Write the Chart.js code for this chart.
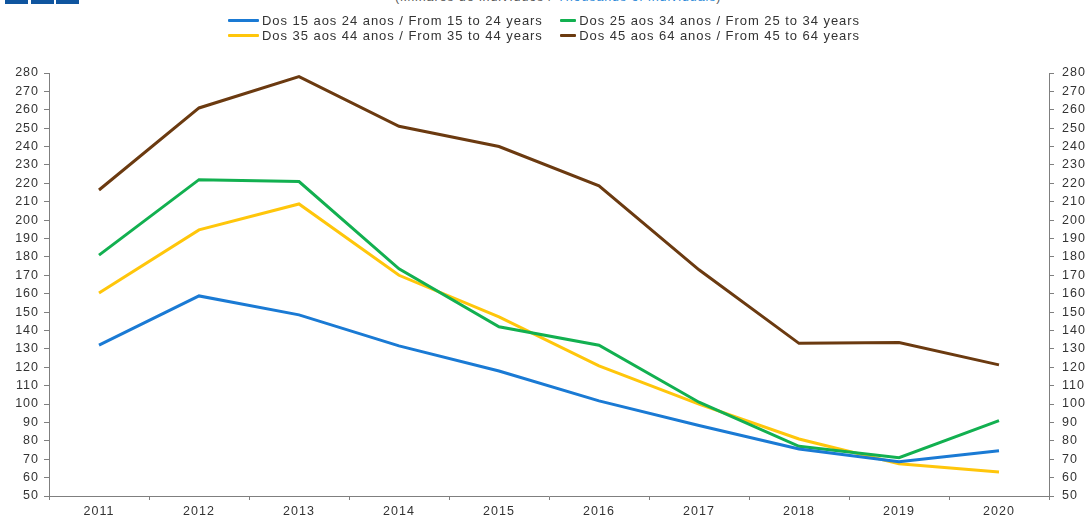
<!DOCTYPE html>
<html lang="pt">
<head>
<meta charset="UTF-8">
<title>Desempregados por grupo etário</title>
<script src="https://cdn.jsdelivr.net/npm/chart.js"></script>
<style>
  html, body { margin: 0; padding: 0; background: #fff; }
  #wrap { position: relative; width: 1086px; height: 515px; overflow: hidden; font-family: "Liberation Sans", Arial, sans-serif; }
  #chart { position: absolute; left: 0; top: 0; }
  .box { position: absolute; top: 0; height: 4px; width: 23px; background: #0f559f; }
  #subtitle { position: absolute; left: 395px; top: -10px; font-size: 12.5px; line-height: 14px; letter-spacing: 0.9px; color: #595959; white-space: nowrap; }
  #subtitle span { color: #2e8ad8; }
  #legend { position: absolute; left: 228px; top: 13px; display: grid; grid-template-columns: 332px 300px; row-gap: 0; }
  .item { display: flex; align-items: center; height: 15px; font-size: 13px; letter-spacing: 0.95px; color: #333; white-space: nowrap; }
  .swatch { width: 31px; height: 3px; margin-right: 3px; border-radius: 1px; }
</style>
</head>
<body>
<div id="wrap">
  <div class="box" style="left:5px"></div>
  <div class="box" style="left:31px"></div>
  <div class="box" style="left:56px"></div>
  <div id="subtitle">(Milhares de indivíduos / <span>Thousands of individuals</span>)</div>
  <canvas id="chart" width="1086" height="515"></canvas>
  <div id="legend"></div>
</div>
<script>
// anos / years
const years = ['2011', '2012', '2013', '2014', '2015', '2016', '2017', '2018', '2019', '2020'];

const seriesNames = [
  'Dos 15 aos 24 anos / From 15 to 24 years',
  'Dos 25 aos 34 anos / From 25 to 34 years',
  'Dos 35 aos 44 anos / From 35 to 44 years',
  'Dos 45 aos 64 anos / From 45 to 64 years'
];
const seriesColors = ['#1a7ad4', '#12b050', '#ffc60b', '#6b3a10'];

// milhares de indivíduos
const age15to24 = [132, 158.8, 148.5, 131.6, 118, 101.7, 88.3, 75.6, 68.6, 74.6];
const age25to34 = [181, 222, 221, 173.5, 142, 132, 101, 77, 70.8, 91];
const age35to44 = [160.4, 194.7, 208.8, 170, 147.4, 120.8, 100, 81, 67.5, 63];
const age45to64 = [216.4, 261, 278, 251, 240, 218.6, 173, 133, 133.4, 121.3];

const yMin = 50, yMax = 280, yStep = 10;

const seriesValues = [age15to24, age25to34, age35to44, age45to64];

// legenda em html, duas colunas
const legend = document.getElementById('legend');
seriesNames.forEach((name, i) => {
  const item = document.createElement('div');
  item.className = 'item';
  item.innerHTML = '<div class="swatch" style="background:' + seriesColors[i] + '"></div>' + name;
  legend.appendChild(item);
});

// espaçamento das letras nos eixos
const spacing = {
  id: 'spacing',
  beforeUpdate(chart) { chart.ctx.letterSpacing = '1px'; },
  beforeDraw(chart) { chart.ctx.letterSpacing = '1px'; }
};

const axisColor = '#7f7f7f';
const tickFont = { family: '"Liberation Sans", Arial, sans-serif', size: 12.5 };

const ctx = document.getElementById('chart').getContext('2d');
new Chart(ctx, {
  type: 'line',
  data: {
    labels: years,
    datasets: seriesValues.map((vals, i) => ({
      label: seriesNames[i],
      data: vals,
      borderColor: seriesColors[i],
      backgroundColor: seriesColors[i],
      borderWidth: 3,
      pointRadius: 0,
      tension: 0,
      yAxisID: 'y'
    }))
  },
  options: {
    responsive: false,
    animation: false,
    layout: { padding: { top: 73, left: 0, right: 0, bottom: 0 } },
    plugins: {
      legend: { display: false },
      tooltip: { enabled: false }
    },
    scales: {
      x: {
        offset: true,
        grid: { offset: true, drawOnChartArea: false, tickLength: 4, color: axisColor },
        border: { color: axisColor, width: 1 },
        ticks: { font: tickFont, color: '#333', padding: 4, maxRotation: 0 },
        afterFit(scale) { scale.height = 19; }
      },
      y: {
        position: 'left',
        min: yMin, max: yMax,
        grid: { drawOnChartArea: false, tickLength: 5, color: axisColor },
        border: { color: axisColor, width: 1 },
        ticks: { stepSize: yStep, autoSkip: false, font: tickFont, color: '#333', padding: 5 },
        afterFit(scale) { scale.width = 49; }
      },
      y2: {
        position: 'right',
        min: yMin, max: yMax,
        grid: { drawOnChartArea: false, tickLength: 5, color: axisColor },
        border: { color: axisColor, width: 1 },
        ticks: { stepSize: yStep, autoSkip: false, font: tickFont, color: '#333', padding: 8 },
        afterFit(scale) { scale.width = 37; }
      }
    }
  },
  plugins: [spacing]
});
</script>
</body>
</html>
